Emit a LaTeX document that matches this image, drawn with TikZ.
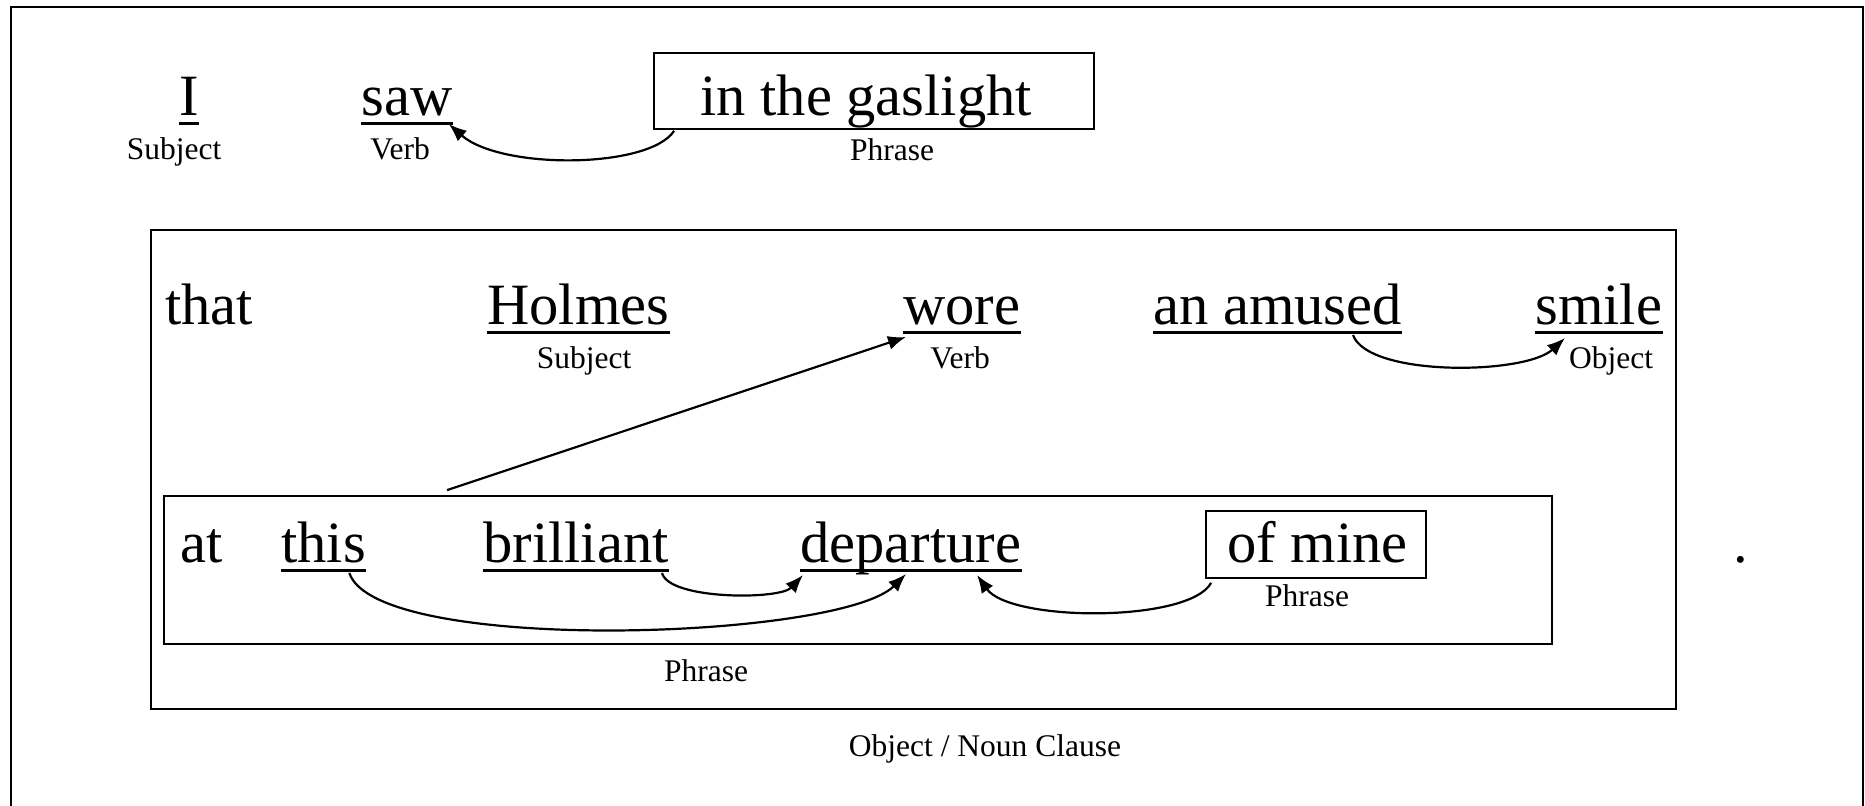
\documentclass[tikz,border=0pt]{standalone}
\usepackage{fontspec}
\setmainfont{Liberation Serif}
\usetikzlibrary{arrows.meta,calc,fit}
\begin{document}
\begin{tikzpicture}[x=0.5pt,y=-0.5pt,
  big/.style={font=\fontsize{29.25pt}{35pt}\selectfont, inner sep=0pt, anchor=base west},
  lab/.style={font=\fontsize{15.75pt}{19pt}\selectfont, inner sep=0pt, anchor=base},
  box/.style={draw, line width=0.9pt, inner sep=0pt},
  arr/.style={line width=1.1pt, -{Latex[length=9pt,width=7pt]}},
  ul/.style={line width=1.5pt}]
\useasboundingbox (0,0) rectangle (1865,806);
\draw[line width=1.2pt] (11,806) -- (11,7) -- (1863,7) -- (1863,806);

% row 1
\node[big] (I) at (179,116) {I};
\node[lab] (subj1) at (174,160) {Subject};
\node[big] (saw) at (361,116) {saw};
\node[lab] (verb1) at (400,160) {Verb};
\node[big] (gastext) at (700,116) {in the gaslight};
\node[box, fit={(654,53) (1094,129)}] (gas) {};
\node[lab] (phr1) at (892,161) {Phrase};

% clause
\node[box, fit={(151,230) (1676,709)}] (clause) {};
\node[big] (that) at (165,325) {that};
\node[big] (holmes) at (487,325) {Holmes};
\node[lab] (subj2) at (584,369) {Subject};
\node[big] (wore) at (903,325) {wore};
\node[lab] (verb2) at (960,369) {Verb};
\node[big] (amused) at (1153,325) {an amused};
\node[big] (smile) at (1535,325) {smile};
\node[lab] (obj) at (1611,369) {Object};

% phrase
\node[box, fit={(164,496) (1552,644)}] (phrasebox) {};
\node[big] (at) at (180,563) {at};
\node[big] (this) at (281,563) {this};
\node[big] (brilliant) at (483,563) {brilliant};
\node[big] (departure) at (800,563) {departure};
\node[big] (mine) at (1227,563) {of mine};
\node[box, fit={(1206,511) (1426,578)}] (minebox) {};
\node[lab] (phr2) at (1307,607) {Phrase};
\node[lab] (phr3) at (706,682) {Phrase};
\node[big] (dot) at (1733,563) {.};
\node[lab] (clauselab) at (985,757) {Object / Noun Clause};

% underlines
\foreach \n in {I,saw,holmes,wore,amused,smile,this,brilliant,departure}
  \draw[ul] ($(\n.base west)+(0,8)$) -- ($(\n.base east)+(0,8)$);

% connectors
\draw[arr] ($(gas.south west)+(21,1)$) .. controls ($(gas.south west)+(-4,39)$) and ($(saw.base east)+(48,54)$) .. ($(saw.base east)+(-4,8)$);
\draw[arr] ($(phrasebox.north west)+(284,-5)$) -- ($(wore.base west)+(3,12)$);
\draw[arr] ($(amused.base west)+(200,10)$) .. controls ($(amused.base west)+(215,52)$) and ($(smile.base west)+(-10,50)$) .. ($(smile.base west)+(30,13)$);
\draw[arr] ($(brilliant.base east)+(-7,10)$) .. controls ($(brilliant.base east)+(0,37)$) and ($(departure.base west)+(-20,37)$) .. ($(departure.base west)+(3,12)$);
\draw[arr] ($(this.base east)+(-17,10)$) .. controls ($(this.base east)+(10,92)$) and ($(departure.base west)+(40,77)$) .. ($(departure.base west)+(106,11)$);
\draw[arr] ($(minebox.south west)+(6,4)$) .. controls ($(minebox.south west)+(-16,44)$) and ($(departure.base west)+(210,59)$) .. ($(departure.base west)+(177,12)$);
\end{tikzpicture}
\end{document}
